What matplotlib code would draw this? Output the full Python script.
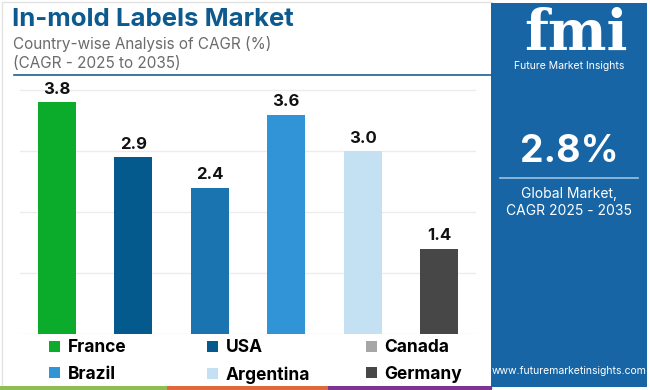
import matplotlib
matplotlib.use("Agg")
import matplotlib.pyplot as plt
from matplotlib.patches import Rectangle, Patch

plt.rcParams["font.family"] = ["Inter", "DejaVu Sans"]

countries = ["France", "USA", "Canada", "Brazil", "Argentina", "Germany"]
cagr = [3.8, 2.9, 2.4, 3.6, 3.0, 1.4]
bar_colors = ["#0bab2c", "#045a8d", "#1a74b0", "#3094d6", "#c3e1f3", "#474747"]
legend_colors = ["#0bab2c", "#045a8d", "#a6a6a6", "#3094d6", "#c3e1f3", "#474747"]

title = "In-mold Labels Market"
subtitle = ["Country-wise Analysis of CAGR (%)", "(CAGR - 2025 to 2035)"]
global_cagr = "2.8%"

W, H = 650, 390
fig = plt.figure(figsize=(W / 100, H / 100), dpi=100)
fig.patch.set_facecolor("white")


def fx(px):
    return px / W


def fy(py):
    return 1 - py / H


# faint frame round the left part
fig.patches.append(Rectangle((fx(2), fy(388)), fx(490), 386 / H, transform=fig.transFigure,
                             fill=False, edgecolor="#e2e2e2", linewidth=1.0))

# header
fig.text(fx(12), fy(19), title, fontsize=18.5, fontweight="bold", color="#0c5a8e", va="center", ha="left")
fig.text(fx(13), fy(44), subtitle[0], fontsize=11, color="#6b6b6b", va="center", ha="left")
fig.text(fx(13), fy(64), subtitle[1], fontsize=11, color="#6b6b6b", va="center", ha="left")
fig.lines.append(plt.Line2D([fx(14), fx(492)], [fy(75), fy(75)], transform=fig.transFigure,
                            color="#1f5f95", linewidth=1.2))

# bars
ax = fig.add_axes([fx(20), fy(334), fx(456), 256 / H])
x = range(len(countries))
ax.bar(x, cagr, width=0.5, color=bar_colors, zorder=3)
for xi, v in zip(x, cagr):
    ax.annotate(f"{v:.1f}", (xi, v), xytext=(0, 4), textcoords="offset points",
                ha="center", va="bottom", fontsize=12, fontweight="bold", color="#111111")
ax.set_xlim(-0.48, len(countries) - 0.52)
ax.set_ylim(0, 4.2)
ax.set_yticks([0, 1, 2, 3, 4])
ax.grid(axis="y", color="#ececec", linewidth=1.0, zorder=0)
ax.tick_params(left=False, bottom=False, labelleft=False, labelbottom=False)
for s in ax.spines.values():
    s.set_visible(False)

# legend: three columns, row-major order
col_x = [46, 204, 363]
for c in range(3):
    idx = [c, c + 3]
    handles = [Patch(facecolor=legend_colors[i], edgecolor="none") for i in idx]
    fig.legend(handles, [countries[i] for i in idx], loc="upper left",
               bbox_to_anchor=(fx(col_x[c]), fy(336)), frameon=False,
               prop={"weight": "bold", "size": 12.5}, handlelength=0.6, handleheight=0.6,
               handletextpad=0.45, labelspacing=0.55, borderpad=0.2, borderaxespad=0)

# bottom colour strips
for x0, x1, col in [(0, 167, "#8cbf4f"), (167, 328, "#e0693a"), (328, 492, "#7d3591")]:
    fig.patches.append(Rectangle((fx(x0), 0), fx(x1 - x0), 4 / H, transform=fig.transFigure,
                                 facecolor=col, edgecolor="none"))

# right panel
fig.patches.append(Rectangle((fx(491), fy(387)), fx(156), 384 / H, transform=fig.transFigure,
                             facecolor="#1765a5", edgecolor="none"))
fig.text(fx(576), fy(34), "fmi", fontsize=40, fontweight="bold", color="white",
         ha="center", va="center", family=["DejaVu Serif"])
fig.text(fx(569), fy(66), "Future Market Insights", fontsize=7.5, color="white", ha="center", va="center")
fig.text(fx(569), fy(152), global_cagr, fontsize=27, fontweight="bold", color="white", ha="center", va="center")
fig.lines.append(plt.Line2D([fx(500), fx(638)], [fy(178), fy(178)], transform=fig.transFigure,
                            color="#9cc3e3", linewidth=1.2))
fig.text(fx(569), fy(194), "Global Market,", fontsize=10, color="white", ha="center", va="center")
fig.text(fx(569), fy(211), "CAGR 2025 - 2035", fontsize=10, color="white", ha="center", va="center")
fig.text(fx(569), fy(371), "www.futuremarketinsights.com", fontsize=7.5, color="white", ha="center", va="center")

fig.savefig("out.png", dpi=100, facecolor="white")
